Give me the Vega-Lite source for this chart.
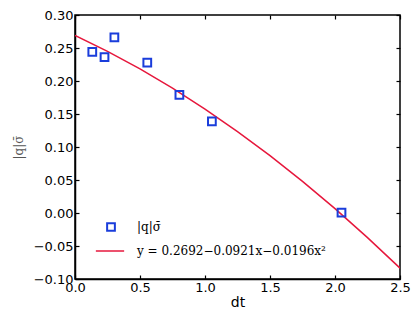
{
  "$schema": "https://vega.github.io/schema/vega-lite/v6.json",
  "width": 325,
  "height": 264,
  "autosize": "none",
  "padding": {"left": 75, "top": 15, "right": 20, "bottom": 36},
  "config": {
    "view": {"stroke": "black", "strokeWidth": 1.5},
    "axis": {
      "domainColor": "black", "domainWidth": 1.5,
      "tickColor": "black", "tickWidth": 1.2, "tickSize": -4,
      "labelFont": "DejaVu Sans", "labelFontSize": 13, "labelColor": "black",
      "labelFlush": false, "labelOverlap": false,
      "grid": false, "titleFont": "DejaVu Sans", "titleFontWeight": "normal"
    }
  },
  "datasets": {
    "pts": [
      {"dt": 0.133, "v": 0.244, "s": "|q|σ̄"},
      {"dt": 0.227, "v": 0.236, "s": "|q|σ̄"},
      {"dt": 0.303, "v": 0.266, "s": "|q|σ̄"},
      {"dt": 0.556, "v": 0.228, "s": "|q|σ̄"},
      {"dt": 0.803, "v": 0.179, "s": "|q|σ̄"},
      {"dt": 1.053, "v": 0.139, "s": "|q|σ̄"},
      {"dt": 2.05, "v": 0.0005, "s": "|q|σ̄"}
    ],
    "fit": [
      {"dt": 0.0, "v": 0.2692, "s": "y = 0.2692−0.0921x−0.0196x²"},
      {"dt": 0.25, "v": 0.24495, "s": "y = 0.2692−0.0921x−0.0196x²"},
      {"dt": 0.5, "v": 0.21825, "s": "y = 0.2692−0.0921x−0.0196x²"},
      {"dt": 0.75, "v": 0.1891, "s": "y = 0.2692−0.0921x−0.0196x²"},
      {"dt": 1.0, "v": 0.1575, "s": "y = 0.2692−0.0921x−0.0196x²"},
      {"dt": 1.25, "v": 0.12345, "s": "y = 0.2692−0.0921x−0.0196x²"},
      {"dt": 1.5, "v": 0.08695, "s": "y = 0.2692−0.0921x−0.0196x²"},
      {"dt": 1.75, "v": 0.048, "s": "y = 0.2692−0.0921x−0.0196x²"},
      {"dt": 2.0, "v": 0.0066, "s": "y = 0.2692−0.0921x−0.0196x²"},
      {"dt": 2.25, "v": -0.03725, "s": "y = 0.2692−0.0921x−0.0196x²"},
      {"dt": 2.5, "v": -0.08355, "s": "y = 0.2692−0.0921x−0.0196x²"}
    ]
  },
  "resolve": {"axis": {"x": "independent", "y": "independent"}},
  "layer": [
    {
      "data": {"name": "fit"},
      "mark": {"type": "line", "color": "#e6173c", "strokeWidth": 1.5, "clip": true},
      "encoding": {
        "x": {"field": "dt", "type": "quantitative", "scale": {"domain": [0, 2.5], "nice": false, "zero": false},
          "axis": {"title": "dt", "titleFontSize": 14, "titlePadding": 1, "values": [0, 0.5, 1, 1.5, 2, 2.5], "format": ".1f", "labelPadding": 6}},
        "y": {"field": "v", "type": "quantitative", "scale": {"domain": [-0.1, 0.3], "nice": false, "zero": false},
          "axis": {"title": "|q|σ̄", "titleFont": "DejaVu Serif", "titleFontSize": 12, "titleColor": "#555", "titlePadding": 8, "values": [-0.1, -0.05, 0, 0.05, 0.1, 0.15, 0.2, 0.25, 0.3], "format": ".2f", "labelPadding": 6}},
        "color": {"field": "s", "type": "nominal", "scale": {"range": ["#e6173c"]},
          "legend": {"title": null, "orient": "none", "legendX": 20, "legendY": 221, "symbolType": "stroke", "symbolSize": 800, "symbolStrokeWidth": 1.5, "labelFont": "DejaVu Serif", "labelFontSize": 12, "labelColor": "black", "labelOffset": 12, "labelLimit": 400}}
      }
    },
    {
      "data": {"name": "pts"},
      "mark": {"type": "point", "shape": "square", "filled": false, "color": "#1a3ddb", "opacity": 1, "strokeWidth": 2, "size": 60},
      "encoding": {
        "x": {"field": "dt", "type": "quantitative", "scale": {"domain": [0, 2.5], "nice": false, "zero": false}, "axis": {"orient": "top", "labels": false, "title": null, "domain": false, "values": [0, 0.5, 1, 1.5, 2, 2.5]}},
        "y": {"field": "v", "type": "quantitative", "scale": {"domain": [-0.1, 0.3], "nice": false, "zero": false}, "axis": {"orient": "right", "labels": false, "title": null, "domain": false, "values": [-0.1, -0.05, 0, 0.05, 0.1, 0.15, 0.2, 0.25, 0.3]}},
        "shape": {"field": "s", "type": "nominal", "scale": {"range": ["square"]},
          "legend": {"title": null, "orient": "none", "legendX": 30, "legendY": 206, "symbolStrokeColor": "#1a3ddb", "symbolFillColor": "transparent", "symbolOpacity": 1, "symbolStrokeWidth": 2, "symbolSize": 60, "labelFont": "DejaVu Serif", "labelFontSize": 12, "labelColor": "black", "labelOffset": 20}}
      }
    }
  ]
}
